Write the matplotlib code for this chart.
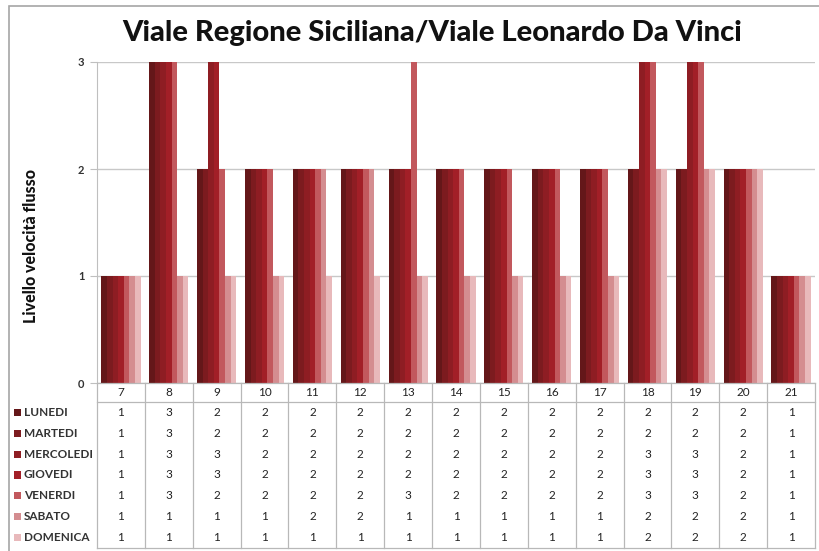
import numpy as np
import matplotlib
matplotlib.use("Agg")
import matplotlib.pyplot as plt
from matplotlib.patches import Rectangle

plt.rcParams['font.family'] = ['Lato', 'DejaVu Sans']

title = "Viale Regione Siciliana/Viale Leonardo Da Vinci"
ylabel = "Livello velocità flusso"
hours = ["7", "8", "9", "10", "11", "12", "13", "14", "15", "16", "17", "18", "19", "20", "21"]
days = ["LUNEDI", "MARTEDI", "MERCOLEDI", "GIOVEDI", "VENERDI", "SABATO", "DOMENICA"]

lunedi    = [1, 3, 2, 2, 2, 2, 2, 2, 2, 2, 2, 2, 2, 2, 1]
martedi   = [1, 3, 2, 2, 2, 2, 2, 2, 2, 2, 2, 2, 2, 2, 1]
mercoledi = [1, 3, 3, 2, 2, 2, 2, 2, 2, 2, 2, 3, 3, 2, 1]
giovedi   = [1, 3, 3, 2, 2, 2, 2, 2, 2, 2, 2, 3, 3, 2, 1]
venerdi   = [1, 3, 2, 2, 2, 2, 3, 2, 2, 2, 2, 3, 3, 2, 1]
sabato    = [1, 1, 1, 1, 2, 2, 1, 1, 1, 1, 1, 2, 2, 2, 1]
domenica  = [1, 1, 1, 1, 1, 1, 1, 1, 1, 1, 1, 2, 2, 2, 1]
series = [lunedi, martedi, mercoledi, giovedi, venerdi, sabato, domenica]

colors = ['#641719', '#7c1b1f', '#8e1d23', '#a21f27', '#c2585d', '#d48d90', '#e8b9bb']

W, H = 819, 551
fig = plt.figure(figsize=(W / 100, H / 100), dpi=100)

def fx(px):
    return px / W

def fy(py):
    return 1 - py / H

# outer chart frame
fig.add_artist(Rectangle((fx(9), fy(560)), fx(830), fy(6) - fy(560), transform=fig.transFigure,
                         fill=False, edgecolor='#a6a6a6', linewidth=1.2))

left, right, top, bottom = 97, 815, 62, 383
ax = fig.add_axes([fx(left), fy(bottom), fx(right - left), fy(top) - fy(bottom)])

x = np.arange(len(hours))
group_w = 0.82
bw = group_w / len(series)
for i, (vals, c) in enumerate(zip(series, colors)):
    ax.bar(x - group_w / 2 + bw * (i + 0.5), vals, width=bw, color=c, linewidth=0, zorder=3)

ax.set_xlim(-0.5, len(hours) - 0.5)
ax.set_ylim(0, 3)
ax.set_yticks([0, 1, 2, 3])
ax.set_yticklabels(["0", "1", "2", "3"], fontsize=8, color='#333333', fontweight='bold')
ax.set_xticks([])
ax.yaxis.grid(True, color='#c8c8c8', linewidth=1)
ax.set_axisbelow(True)
for s in ['top', 'right', 'bottom']:
    ax.spines[s].set_visible(False)
ax.spines['left'].set_color('#bfbfbf')
ax.tick_params(axis='y', length=5, color='#bfbfbf', pad=4)

fig.text(fx(432), fy(33), title, ha='center', va='center', fontsize=21, fontweight='black',
         color='#111111')
fig.text(fx(31), fy(246), ylabel, ha='center', va='center', rotation=90, fontsize=11.5,
         fontweight='black', color='#111111')

# data table below the chart
tab_top, head_bot, tab_bot = 383, 402, 548
tax = fig.add_axes([fx(left), fy(tab_bot), fx(right - left), fy(tab_top) - fy(tab_bot)])
tax.set_xlim(-0.5, len(hours) - 0.5)
tax.set_ylim(tab_bot, tab_top)
tax.axis('off')
grid_c = '#b8b8b8'
for k in range(len(hours) + 1):
    tax.plot([k - 0.5, k - 0.5], [tab_top, tab_bot], color=grid_c, linewidth=0.9, clip_on=False)
for yy in [tab_top, head_bot, tab_bot]:
    tax.plot([-0.5, len(hours) - 0.5], [yy, yy], color=grid_c, linewidth=0.9, clip_on=False)
for j, h in enumerate(hours):
    tax.text(j, (tab_top + head_bot) / 2, h, ha='center', va='center', fontsize=8.5, color='#222222')

row_h = (tab_bot - head_bot) / len(days)
for r, (d, vals, c) in enumerate(zip(days, series, colors)):
    yc = head_bot + row_h * (r + 0.5)
    for j, v in enumerate(vals):
        tax.text(j, yc, str(v), ha='center', va='center', fontsize=8.5, color='#222222')
    fig.add_artist(Rectangle((fx(14), fy(yc + 3.5)), fx(7), fy(yc - 3.5) - fy(yc + 3.5),
                             transform=fig.transFigure, facecolor=c, edgecolor='none'))
    fig.text(fx(24), fy(yc), d, ha='left', va='center', fontsize=8.5, fontweight='bold',
             color='#333333')

fig.savefig("out.png", dpi=100)
